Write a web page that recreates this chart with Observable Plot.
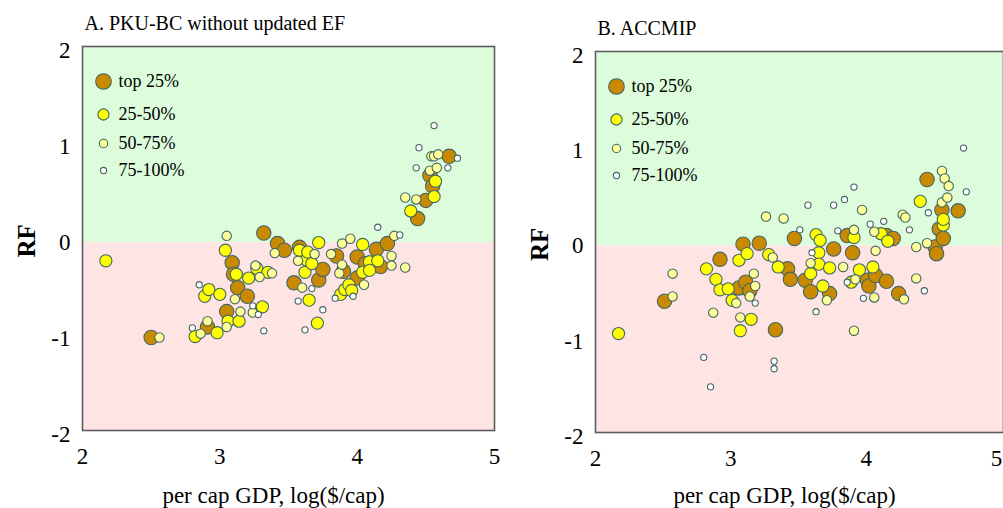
<!DOCTYPE html>
<html>
<head>
<meta charset="utf-8">
<script src="https://cdn.jsdelivr.net/npm/d3@7"></script>
<script src="https://cdn.jsdelivr.net/npm/@observablehq/plot@0.6"></script>
<style>
  body { margin: 0; background: #fff; }
  #chart { position: relative; width: 1003px; height: 508px; overflow: hidden; }
  #chart svg { position: absolute; top: 0; overflow: visible; }
</style>
</head>
<body>
<div id="chart"></div>
<script>
// Country groups ranked by share, drawn largest marker first
const groups = ["top 25%", "25-50%", "50-75%", "75-100%"];
const groupFill = ["#c98a00", "#ffff00", "#ffff99", "#ffffff"];
const groupR = [7.2, 6.1, 4.7, 3.1];
const legendR = [7.8, 5.6, 4.2, 3.1];

const ticksX = [2, 3, 4, 5];
const ticksY = [-2, -1, 0, 1, 2];
const yLow = -1.96, yHigh = 2.045;

// Panel A: PKU-BC without updated EF — [log GDP per cap, RF]
const A_top = [[2.50,-0.99],[2.91,-0.88],[3.05,-0.72],[3.09,-0.21],[3.10,-0.33],[3.13,-0.47],[3.20,-0.56],[3.32,0.10],[3.42,-0.01],[3.47,-0.08],[3.54,-0.42],[3.58,-0.05],[3.72,-0.39],[3.75,-0.28],[3.85,-0.14],[3.90,-0.30],[4.00,-0.15],[4.00,-0.37],[4.06,-0.22],[4.14,-0.07],[4.17,-0.25],[4.22,-0.01],[4.44,0.25],[4.50,0.44],[4.53,0.70],[4.55,0.59],[4.67,0.90]];
const A_q2 = [[2.17,-0.19],[2.82,-0.98],[2.89,-0.56],[2.92,-0.49],[2.98,-0.94],[3.00,-0.54],[3.04,-0.08],[3.06,-0.82],[3.12,-0.33],[3.14,-0.82],[3.21,-0.37],[3.27,-0.27],[3.31,-0.67],[3.35,-0.31],[3.58,-0.08],[3.62,-0.31],[3.63,-0.18],[3.64,-0.10],[3.65,-0.60],[3.67,-0.22],[3.71,-0.84],[3.72,0.00],[3.88,-0.54],[3.91,-0.49],[3.94,-0.44],[3.96,-0.50],[4.04,-0.02],[4.04,-0.31],[4.09,-0.20],[4.09,-0.29],[4.15,-0.19],[4.39,0.33],[4.56,0.48],[4.57,0.64]];
const A_q3 = [[2.56,-0.99],[2.86,-0.95],[2.91,-0.82],[3.05,0.07],[3.05,-0.88],[3.11,-0.59],[3.15,-0.72],[3.24,-0.73],[3.26,-0.24],[3.29,-0.36],[3.38,-0.32],[3.40,-0.11],[3.57,-0.19],[3.60,-0.47],[3.69,-0.12],[3.81,-0.12],[3.87,-0.32],[3.89,-0.01],[3.89,-0.23],[3.95,0.04],[4.05,-0.44],[4.25,-0.14],[4.25,-0.24],[4.27,0.07],[4.35,-0.26],[4.35,0.47],[4.43,0.45],[4.53,0.75],[4.54,0.90],[4.56,0.90],[4.58,0.78],[4.59,0.92]];
const A_q4 = [[2.80,-0.89],[2.85,-0.44],[3.24,-0.66],[3.28,-0.75],[3.32,-0.92],[3.57,-0.61],[3.62,-0.91],[3.67,-0.48],[3.75,-0.70],[3.84,-0.58],[3.97,-0.56],[4.15,0.16],[4.31,0.08],[4.43,0.78],[4.45,0.99],[4.56,1.22],[4.66,0.78],[4.73,0.88]];

// Panel B: ACCMIP
const B_top = [[2.51,-0.58],[2.92,-0.14],[3.06,-0.44],[3.09,0.02],[3.11,-0.38],[3.14,-0.47],[3.21,0.03],[3.33,-0.88],[3.42,-0.24],[3.44,-0.35],[3.47,0.08],[3.55,-0.36],[3.59,-0.48],[3.73,-0.50],[3.76,-0.03],[3.86,0.11],[3.90,-0.07],[4.01,-0.36],[4.02,-0.42],[4.07,-0.31],[4.15,0.11],[4.15,-0.37],[4.20,0.08],[4.24,-0.50],[4.45,0.70],[4.51,-0.01],[4.52,-0.08],[4.54,0.18],[4.56,0.38],[4.57,0.08],[4.68,0.37]];
const B_q2 = [[2.17,-0.92],[2.82,-0.24],[2.89,-0.35],[2.92,-0.46],[2.98,-0.45],[3.01,-0.57],[3.06,-0.15],[3.07,-0.89],[3.12,-0.08],[3.15,-0.77],[3.28,-0.09],[3.35,-0.22],[3.59,-0.29],[3.63,0.12],[3.65,-0.07],[3.65,-0.19],[3.66,0.06],[3.68,-0.42],[3.73,-0.23],[3.89,-0.38],[3.91,0.09],[3.95,-0.25],[4.05,-0.22],[4.11,0.13],[4.16,0.05],[4.40,0.47],[4.57,0.22],[4.57,0.28]];
const B_q3 = [[2.57,-0.53],[2.57,-0.29],[2.87,-0.70],[3.04,-0.60],[3.07,-0.75],[3.14,-0.53],[3.17,-0.29],[3.18,-0.42],[3.26,0.31],[3.31,-0.12],[3.39,0.29],[3.59,-0.18],[3.71,-0.57],[3.83,-0.22],[3.91,0.17],[3.91,-0.89],[3.92,-0.35],[3.97,0.38],[4.06,0.15],[4.06,-0.54],[4.07,-0.05],[4.27,0.33],[4.29,0.30],[4.28,-0.56],[4.37,-0.01],[4.37,-0.34],[4.45,0.03],[4.56,0.46],[4.56,0.79],[4.58,0.71],[4.60,0.51],[4.61,0.63]];
const B_q4 = [[2.80,-1.17],[2.85,-1.48],[3.18,-0.60],[3.32,-1.21],[3.32,-1.29],[3.51,0.17],[3.57,0.43],[3.60,-0.07],[3.63,-0.69],[3.76,0.43],[3.79,0.16],[3.84,0.49],[3.86,-0.38],[3.91,0.62],[3.98,-0.55],[4.03,0.23],[4.13,0.26],[4.32,0.17],[4.43,-0.47],[4.46,0.35],[4.72,1.03],[4.74,0.57]];

const legendDy = [35, 68, 97, 124];
const serif = "'Liberation Serif', 'Times New Roman', serif";
const outline = "#436666";
const plain = d => String(d);

function panel({title, sets, left, width, marginLeft, marginRight, marginTop, marginBottom, xMax, labelDy, edgeTickDx}) {
  const tickStyle = {tickSize: 0, tickPadding: 17, fontSize: 23, label: null, fill: "#000", tickFormat: plain};
  const marks = [
    Plot.rect([{x1: 2, x2: xMax, y1: 0, y2: yHigh}], {x1: "x1", x2: "x2", y1: "y1", y2: "y2", fill: "#dcfcdc"}),
    Plot.rect([{x1: 2, x2: xMax, y1: yLow, y2: 0}], {x1: "x1", x2: "x2", y1: "y1", y2: "y2", fill: "#ffe4e4"}),
    Plot.frame({stroke: "#5c5c5c", strokeWidth: 1.6}),
    ...sets.map((pts, i) => Plot.dot(pts, {
      x: d => d[0], y: d => d[1], r: groupR[i],
      fill: groupFill[i], stroke: outline, strokeWidth: 1.1
    })),
    ...groups.map((g, i) => Plot.dot([g], {
      frameAnchor: "top-left", dx: 21, dy: legendDy[i], r: legendR[i],
      fill: groupFill[i], stroke: outline, strokeWidth: 1.1
    })),
    ...groups.map((g, i) => Plot.text([g], {
      frameAnchor: "top-left", dx: 36, dy: legendDy[i], text: d => d,
      textAnchor: "start", lineAnchor: "middle", fontSize: 18, fill: "#000"
    })),
    Plot.axisX(ticksX.slice(0, -1), tickStyle),
    Plot.axisX(ticksX.slice(-1), {...tickStyle, dx: edgeTickDx}),
    Plot.axisY(ticksY, {...tickStyle, tickPadding: 12}),
    Plot.text(["RF"], {
      frameAnchor: "left", dx: -56, dy: 19, rotate: -90, text: d => d,
      fontSize: 25, fontWeight: "bold", fill: "#000"
    }),
    Plot.text(["per cap GDP, log($/cap)"], {
      frameAnchor: "bottom", dx: -15, dy: labelDy, text: d => d,
      lineAnchor: "bottom", fontSize: 23, fill: "#000"
    }),
    Plot.text([title], {
      frameAnchor: "top-left", dx: 2, dy: -17, text: d => d,
      textAnchor: "start", lineAnchor: "bottom", fontSize: 20, fill: "#000"
    })
  ];
  const svg = Plot.plot({
    width, height: 508,
    marginLeft, marginRight, marginTop, marginBottom,
    style: {fontFamily: serif, background: "transparent", color: "#000"},
    x: {domain: [2, xMax]},
    y: {domain: [yLow, yHigh]},
    marks
  });
  svg.style.left = left + "px";
  document.getElementById("chart").appendChild(svg);
}

panel({
  title: "A. PKU-BC without updated EF",
  sets: [A_top, A_q2, A_q3, A_q4],
  left: 0, width: 500,
  marginLeft: 82, marginRight: 6, marginTop: 46, marginBottom: 78,
  xMax: 5, labelDy: 72, edgeTickDx: 0
});

panel({
  title: "B. ACCMIP",
  sets: [B_top, B_q2, B_q3, B_q4],
  left: 500, width: 503,
  marginLeft: 95, marginRight: 0, marginTop: 51, marginBottom: 76,
  xMax: 5.015, labelDy: 70, edgeTickDx: -5
});
</script>
</body>
</html>
